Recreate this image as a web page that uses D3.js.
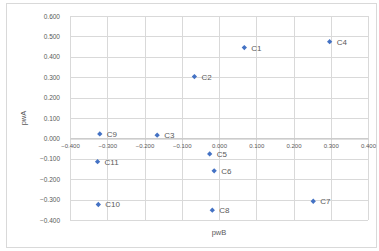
<!DOCTYPE html>
<html>
<head>
<meta charset="utf-8">
<script src="https://cdn.jsdelivr.net/npm/d3@7"></script>
<style>
  body { margin: 0; background: #fff; }
  svg { display: block; font-family: "Liberation Sans", Arial, sans-serif; }
</style>
</head>
<body>
<svg width="379" height="251"></svg>
<script>
// point labels and coordinates
var names = ["C1", "C2", "C3", "C4", "C5", "C6", "C7", "C8", "C9", "C10", "C11"];
var xVals = [0.068, -0.066, -0.166, 0.297, -0.025, -0.013, 0.253, -0.018, -0.320, -0.324, -0.326];
var yVals = [0.445, 0.303, 0.016, 0.474, -0.076, -0.159, -0.308, -0.352, 0.022, -0.324, -0.114];
var xTicks = [-0.4, -0.3, -0.2, -0.1, 0, 0.1, 0.2, 0.3, 0.4];
var yTicks = [-0.4, -0.3, -0.2, -0.1, 0, 0.1, 0.2, 0.3, 0.4, 0.5, 0.6];
var xTitle = "pwB", yTitle = "pwA";

var svg = d3.select("svg"),
  width = +svg.attr("width"),
  height = +svg.attr("height");

var fmt = d3.format(".3f");

// chart border
svg.append("rect")
  .attr("x", 6.5).attr("y", 3.5)
  .attr("width", 370).attr("height", 244)
  .attr("fill", "#fff")
  .attr("stroke", "#d9d9d9");

var x = d3.scaleLinear().domain([-0.4, 0.4]).range([70, 368]);
var y = d3.scaleLinear().domain([-0.4, 0.6]).range([220, 16]);

// gridlines
svg.append("g")
  .selectAll("line")
  .data(yTicks)
  .enter().append("line")
    .attr("x1", x(-0.4)).attr("x2", x(0.4))
    .attr("y1", function(d) { return Math.round(y(d)) + 0.5; })
    .attr("y2", function(d) { return Math.round(y(d)) + 0.5; })
    .attr("stroke", "#d9d9d9");

svg.append("g")
  .selectAll("line")
  .data(xTicks)
  .enter().append("line")
    .attr("y1", y(0.6)).attr("y2", y(-0.4))
    .attr("x1", function(d) { return Math.round(x(d)) + 0.5; })
    .attr("x2", function(d) { return Math.round(x(d)) + 0.5; })
    .attr("stroke", "#d9d9d9");

// horizontal axis at y = 0
var xAxis = svg.append("g")
  .attr("transform", "translate(0," + (Math.round(y(0)) + 0.5) + ")")
  .call(d3.axisBottom(x).tickValues(xTicks).tickFormat(fmt).tickSize(0).tickPadding(5));
xAxis.select(".domain").attr("stroke", "#bfbfbf");
xAxis.selectAll("text")
  .attr("fill", "#595959")
  .style("font-size", "6px");

// vertical labels on the left
var yAxis = svg.append("g")
  .attr("transform", "translate(" + x(-0.4) + ",0)")
  .call(d3.axisLeft(y).tickValues(yTicks).tickFormat(fmt).tickSize(0).tickPadding(10));
yAxis.select(".domain").remove();
yAxis.selectAll("text")
  .attr("fill", "#595959")
  .style("font-size", "6.5px");

// axis titles
svg.append("text")
  .attr("x", x(0)).attr("y", 235)
  .attr("text-anchor", "middle")
  .attr("fill", "#595959")
  .style("font-size", "7.5px")
  .text(xTitle);

svg.append("text")
  .attr("transform", "translate(26," + y(0.1) + ") rotate(-90)")
  .attr("text-anchor", "middle")
  .attr("fill", "#595959")
  .style("font-size", "7.5px")
  .text(yTitle);

// points
var pts = names.map(function(n, i) { return {name: n, x: xVals[i], y: yVals[i]}; });

svg.append("g")
  .selectAll("path")
  .data(pts)
  .enter().append("path")
    .attr("d", d3.symbol().type(d3.symbolSquare).size(14))
    .attr("transform", function(d) { return "translate(" + x(d.x) + "," + y(d.y) + ") rotate(45)"; })
    .attr("fill", "#4472c4");

svg.append("g")
  .selectAll("text")
  .data(pts)
  .enter().append("text")
    .attr("x", function(d) { return x(d.x) + 7; })
    .attr("y", function(d) { return y(d.y) + 3; })
    .attr("fill", "#595959")
    .style("font-size", "8px")
    .text(function(d) { return d.name; });
</script>
</body>
</html>
